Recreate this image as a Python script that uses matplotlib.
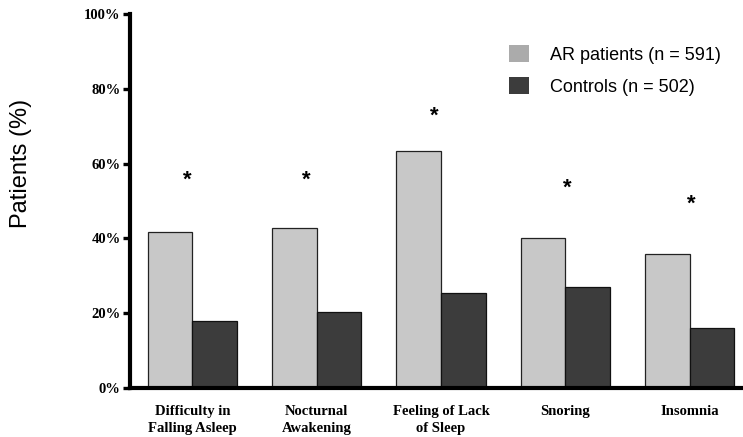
import numpy as np
import matplotlib.pyplot as plt
from matplotlib.patches import Patch

# Sleep complaints, AR patients vs. controls (percent)
categories = ["Difficulty in\nFalling Asleep", "Nocturnal\nAwakening",
              "Feeling of Lack\nof Sleep", "Snoring", "Insomnia"]
ar_patients = [41.6, 42.9, 63.4, 40.0, 35.7]
controls = [18.0, 20.4, 25.5, 27.1, 16.0]

# significance markers (height in %, small horizontal shift in group units)
star_y = [55.6, 55.6, 72.6, 53.4, 49.2]
star_dx = [-0.045, -0.08, -0.055, 0.02, 0.01]

ar_color = "#c8c8c8"
ctrl_color = "#3c3c3c"

fig = plt.figure(figsize=(7.43, 4.37), dpi=100)
ax = fig.add_axes([0.1754, 0.1121, 0.8246, 0.8558])

x = np.arange(len(categories))
w = 0.359
ax.bar(x - w / 2, ar_patients, w, color=ar_color, edgecolor="#222222", linewidth=0.9)
ax.bar(x + w / 2, controls, w, color=ctrl_color, edgecolor="#111111", linewidth=0.9)

for xi, dx, yi in zip(x, star_dx, star_y):
    ax.text(xi + dx, yi, "*", ha="center", va="center", fontsize=16,
            fontweight="bold", family="Liberation Sans")

ax.set_xlim(-0.5, 4.43)
ax.set_ylim(0, 100)
ax.set_yticks(range(0, 101, 20))
ax.set_yticklabels([f"{v}%" for v in range(0, 101, 20)],
                   family="Liberation Serif", fontweight="bold", fontsize=10.5)
ax.set_xticks(x)
ax.set_xticklabels(categories, family="Liberation Serif", fontweight="bold",
                   fontsize=10.5, linespacing=1.4)
ax.tick_params(axis="x", length=0, pad=12)
ax.tick_params(axis="y", length=5, width=2.4, pad=2)

for side in ["top", "right"]:
    ax.spines[side].set_visible(False)
for side in ["left", "bottom"]:
    ax.spines[side].set_linewidth(3)

ax.set_ylabel("Patients (%)", family="Liberation Sans", fontsize=17)
ax.yaxis.set_label_coords(-0.160, 0.600)

handles = [Patch(facecolor="#ababab", label="AR patients (n = 591)"),
           Patch(facecolor=ctrl_color, label="Controls (n = 502)")]
ax.legend(handles=handles, loc="upper left", bbox_to_anchor=(509 / 743, 1 - 45 / 437),
          bbox_transform=fig.transFigure, frameon=False, prop={"family": "Liberation Sans", "size": 13},
          handlelength=1.1, handleheight=1.05, handletextpad=1.15, labelspacing=0.75,
          borderpad=0, borderaxespad=0)

fig.savefig("out.png", dpi=100)
